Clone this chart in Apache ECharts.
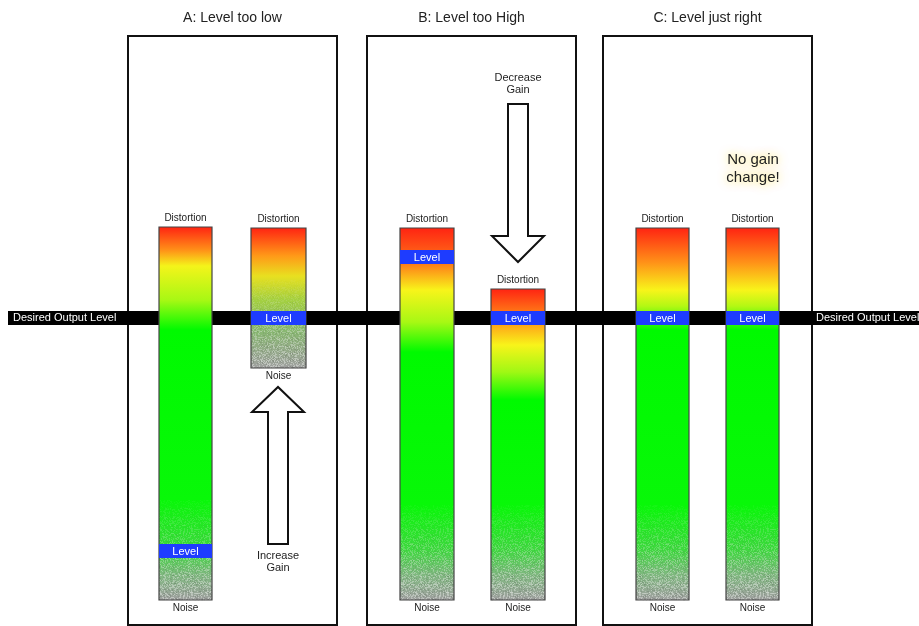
<!DOCTYPE html>
<html><head><meta charset="utf-8">
<script src="https://cdn.jsdelivr.net/npm/echarts@6/dist/echarts.min.js"></script>
<style>html,body{margin:0;padding:0;background:#fff}#c{width:919px;height:626px}</style>
</head><body><div id="c"></div>
<script>
// ---- data (diagram units = pixel-like scale of the value axes) ----
const panelTitles = ['A: Level too low', 'B: Level too High', 'C: Level just right'];
const panelLeft = [128, 367, 603];
const panelRight = [337, 576, 812];
const panelTop = 36;
const panelBottom = 625;
const desiredLevel = 318;
const desiredLabel = 'Desired Output Level';

const barLeft = [159, 251, 400, 491, 636, 726];
const barRight = [212, 306, 454, 545, 689, 779];
const barTop = [227, 228, 228, 289, 228, 228];
const barBottom = [600, 368, 600, 600, 600, 600];
const levelY = [551, 318, 257, 318, 318, 318];
const noiseStart = [500, 280, 505, 505, 505, 505];
// gradient stops [y, colour] per bar
const barStops = [
  [[227,'#ff2412'],[250,'#ff9018'],[266,'#f4f41a'],[300,'#a8f814'],[330,'#00fa00'],[500,'#08f808'],[550,'#40d840'],[575,'#80b880'],[600,'#a0a0a0']],
  [[228,'#ff2412'],[256,'#ff9a18'],[276,'#e8e020'],[300,'#a4d040'],[330,'#88b870'],[368,'#a0a0a0']],
  [[228,'#ff2412'],[262,'#ff7418'],[290,'#f8f41a'],[322,'#a8f814'],[352,'#00fa00'],[505,'#08f808'],[550,'#40d840'],[575,'#80b880'],[600,'#a0a0a0']],
  [[289,'#ff2412'],[322,'#ff9a18'],[345,'#f8f41a'],[372,'#a0f814'],[400,'#00fa00'],[505,'#08f808'],[550,'#40d840'],[575,'#80b880'],[600,'#a0a0a0']],
  [[228,'#ff2412'],[262,'#ff9018'],[290,'#f8f41a'],[306,'#b4f814'],[330,'#00fa00'],[505,'#08f808'],[550,'#40d840'],[575,'#80b880'],[600,'#a0a0a0']],
  [[228,'#ff2412'],[262,'#ff9018'],[290,'#f8f41a'],[306,'#b4f814'],[330,'#00fa00'],[505,'#08f808'],[550,'#40d840'],[575,'#80b880'],[600,'#a0a0a0']]
];
const topLabel = 'Distortion';
const bottomLabel = 'Noise';
const levelLabel = 'Level';

// arrows: [centreX, tailY, tipY, shaftHalfWidth, headHalfWidth, headLength]
const arrows = [
  [278, 544, 387, 10, 26, 25],
  [518, 104, 262, 10, 26, 26]
];
const arrowLabels = [['Increase', 'Gain'], ['Decrease', 'Gain']];
const arrowLabelY = [556, 78];
const noteText = 'No gain\nchange!';
const noteX = 753, noteY = 169;

// ---- noise tile (deterministic hash pattern, style only) ----
function makeNoise() {
  const c = document.createElement('canvas');
  c.width = 64; c.height = 64;
  const g = c.getContext('2d');
  for (let y = 0; y < 64; y++) for (let x = 0; x < 64; x++) {
    let v = Math.sin(x * 12.9898 + y * 78.233) * 43758.5453;
    v = v - Math.floor(v);
    if (v > 0.66) { g.fillStyle = 'rgba(230,235,230,' + (0.4 + (v - 0.66)) + ')'; g.fillRect(x, y, 1, 1); }
    else if (v < 0.12) { g.fillStyle = 'rgba(60,70,60,' + (0.3 - v) + ')'; g.fillRect(x, y, 1, 1); }
  }
  return c;
}
const noiseTile = makeNoise();
const FONT = '"Liberation Sans", Arial, sans-serif';

const chart = echarts.init(document.getElementById('c'), null, {renderer: 'canvas'});

function panelItem(params, api) {
  const i = params.dataIndex;
  const p0 = api.coord([panelLeft[i], panelTop]);
  const p1 = api.coord([panelRight[i], panelBottom]);
  return {type: 'group', children: [
    {type: 'rect', shape: {x: p0[0], y: p0[1], width: p1[0] - p0[0], height: p1[1] - p0[1]},
     style: {fill: 'none', stroke: '#111', lineWidth: 2}},
    {type: 'text', style: {text: panelTitles[i], x: (p0[0] + p1[0]) / 2, y: p0[1] - 18,
      align: 'center', verticalAlign: 'middle', font: '14px ' + FONT, fill: '#222'}}
  ]};
}

function bandItem(params, api) {
  const a = api.coord([8, desiredLevel - 7]);
  const b = api.coord([919, desiredLevel + 7]);
  const r = api.coord([816, desiredLevel]);
  return {type: 'group', children: [
    {type: 'rect', shape: {x: a[0], y: a[1], width: b[0] - a[0], height: b[1] - a[1]}, style: {fill: '#000'}},
    {type: 'text', style: {text: desiredLabel, x: a[0] + 5, y: (a[1] + b[1]) / 2, verticalAlign: 'middle',
      font: '11px ' + FONT, fill: '#fff'}},
    {type: 'text', style: {text: desiredLabel, x: r[0], y: (a[1] + b[1]) / 2, verticalAlign: 'middle',
      font: '11px ' + FONT, fill: '#fff'}}
  ]};
}

function barItem(params, api) {
  const i = params.dataIndex;
  const p0 = api.coord([barLeft[i], barTop[i]]);
  const p1 = api.coord([barRight[i], barBottom[i]]);
  const h = p1[1] - p0[1], w = p1[0] - p0[0];
  const stops = barStops[i].map(s => ({offset: (api.coord([0, s[0]])[1] - p0[1]) / h, color: s[1]}));
  const children = [
    {type: 'rect', shape: {x: p0[0], y: p0[1], width: w, height: h},
     style: {fill: new echarts.graphic.LinearGradient(0, 0, 0, 1, stops)}}
  ];
  // noise overlay in strips of increasing opacity
  const ns = api.coord([0, noiseStart[i]])[1];
  const nSteps = 12;
  const stepH = (p1[1] - ns) / nSteps;
  for (let k = 0; k < nSteps; k++) {
    children.push({type: 'rect', shape: {x: p0[0], y: ns + k * stepH, width: w, height: stepH + 0.5},
      style: {fill: {image: noiseTile, repeat: 'repeat'}, opacity: 0.08 + 0.06 * k}});
  }
  children.push({type: 'rect', shape: {x: p0[0], y: p0[1], width: w, height: h},
    style: {fill: 'none', stroke: '#444', lineWidth: 1.2}});
  const l0 = api.coord([0, levelY[i] - 7])[1];
  const l1 = api.coord([0, levelY[i] + 7])[1];
  children.push({type: 'rect', shape: {x: p0[0], y: l0, width: w, height: l1 - l0}, style: {fill: '#1e3cff'}});
  children.push({type: 'text', style: {text: levelLabel, x: p0[0] + w / 2, y: (l0 + l1) / 2 + 0.5,
    align: 'center', verticalAlign: 'middle', font: '11px ' + FONT, fill: '#fff'}});
  children.push({type: 'text', style: {text: topLabel, x: p0[0] + w / 2, y: p0[1] - 9,
    align: 'center', verticalAlign: 'middle', font: '10px ' + FONT, fill: '#222'}});
  children.push({type: 'text', style: {text: bottomLabel, x: p0[0] + w / 2, y: p1[1] + 8,
    align: 'center', verticalAlign: 'middle', font: '10px ' + FONT, fill: '#222'}});
  return {type: 'group', children};
}

function arrowItem(params, api) {
  const i = params.dataIndex;
  const [cx, tail, tip, sw, hw, hl] = arrows[i];
  const dir = tip < tail ? -1 : 1;
  const base = tip - dir * hl;
  const pts = [[cx - sw, tail], [cx - sw, base], [cx - hw, base], [cx, tip], [cx + hw, base], [cx + sw, base], [cx + sw, tail]]
    .map(p => api.coord(p));
  const ly = api.coord([cx, arrowLabelY[i]]);
  return {type: 'group', children: [
    {type: 'polygon', shape: {points: pts}, style: {fill: '#fff', stroke: '#111', lineWidth: 2, lineJoin: 'miter'}},
    {type: 'text', style: {text: arrowLabels[i].join('\n'), x: ly[0], y: ly[1] - 6, align: 'center',
      verticalAlign: 'top', font: '11px ' + FONT, fill: '#222', lineHeight: 12}}
  ]};
}

function noteItem(params, api) {
  const p = api.coord([noteX, noteY]);
  return {type: 'text', style: {text: noteText, x: p[0], y: p[1], align: 'center', verticalAlign: 'middle',
    font: '15px ' + FONT, fill: '#222', lineHeight: 18, textShadowColor: '#ffe640', textShadowBlur: 10}};
}

chart.setOption({
  animation: false,
  backgroundColor: '#fff',
  grid: {left: 0, right: 0, top: 0, bottom: 0},
  xAxis: {type: 'value', min: 0, max: 919, show: false},
  yAxis: {type: 'value', min: 0, max: 626, inverse: true, show: false},
  series: [
    {type: 'custom', renderItem: panelItem, data: panelTitles.map((t, i) => [panelLeft[i], panelTop]), z: 1},
    {type: 'custom', renderItem: bandItem, data: [[0, desiredLevel]], z: 2},
    {type: 'custom', renderItem: barItem, data: barLeft.map((x, i) => [x, barTop[i]]), z: 3},
    {type: 'custom', renderItem: arrowItem, data: arrows.map(a => [a[0], a[1]]), z: 3},
    {type: 'custom', renderItem: noteItem, data: [[noteX, noteY]], z: 3}
  ]
});
</script></body></html>
